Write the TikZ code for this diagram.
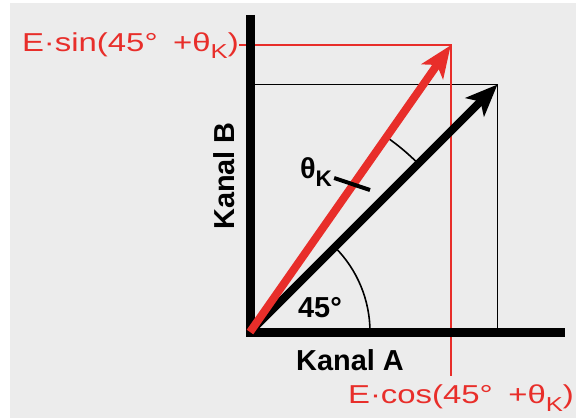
\documentclass[tikz,border=0pt]{standalone}
\usepackage{fontspec}
\setmainfont{Liberation Sans}
\usetikzlibrary{arrows.meta,calc,positioning}
\definecolor{panel}{RGB}{236,236,236}
\definecolor{sigred}{RGB}{232,46,42}
\tikzset{
  axis/.style  = {line width=9bp},
  vec/.style   = {line width=8bp, -{Stealth[length=32bp,width=26bp,inset=8bp]}},
  guide/.style = {line width=1.6bp},
  lead/.style  = {line width=4bp},
  lbl/.style   = {font=\fontsize{29}{30}\selectfont\bfseries, inner sep=0pt},
  rlbl/.style  = {font=\fontsize{26}{28}\selectfont, text=sigred, inner sep=0pt, xscale=1.27},
}
\newcommand{\thK}{θ\raisebox{-0.28em}{\scalebox{0.78}{K}}}
\begin{document}
\begin{tikzpicture}[x=1bp,y=1bp]
 \useasboundingbox (0,0) rectangle (576,418);
 \fill[panel] (10,0) rectangle (576,415);
 \coordinate (O) at (250,86);
 \coordinate (ytop) at (250,403);
 \coordinate (xend) at (565,86);
 \coordinate (tipB) at ($(O)+(45:350)$);
 \coordinate (tipR) at ($(O)+(55:350)$);
 % projections of the black vector
 \draw[guide] (O |- tipB) -- (tipB) -- (tipB |- O);
 % projections of the red vector
 \node[rlbl, anchor=east] (sinlbl) at ($(tipR -| O)+(-11,0)$) {E·sin(45°\hspace{5bp} +\thK)};
 \node[rlbl] (coslbl) at (461,20) {E·cos(45°\hspace{5bp} +\thK)};
 \coordinate (cosend) at (tipR |- 0,42);
 \draw[guide, sigred] (sinlbl.east) -| (cosend);
 % angles
 \draw[guide] ($(O)+(120,0)$) arc[start angle=0, end angle=45, radius=120];
 \draw[guide] ($(O)+(45:238)$) arc[start angle=45, end angle=55, radius=238];
 % axes and vectors
 \draw[axis] (ytop) -- (O) -- (xend);
 \draw[vec] (O) -- (tipB);
 \draw[vec, sigred] (O) -- (tipR);
 % labels
 \node[lbl] (kana) at (350,58) {Kanal A};
 \node[lbl, rotate=90] (kanb) at (224,242) {Kanal B};
 \node[lbl] (ang) at (320,110) {45°};
 \node[lbl] (thlbl) at (316,246) {\thK};
 \coordinate (thend) at (370,228);
 \draw[lead] ($(thlbl.east)+(2,-6)$) -- (thend);
\end{tikzpicture}
\end{document}
